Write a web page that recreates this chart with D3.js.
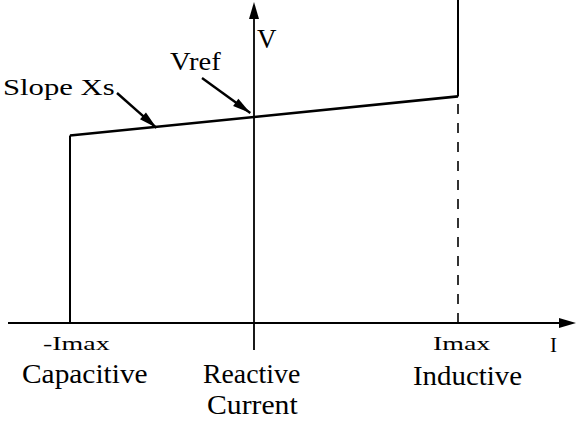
<!DOCTYPE html>
<html><head><meta charset="utf-8">
<script src="https://cdn.jsdelivr.net/npm/d3@7"></script>
<style>
html,body{margin:0;padding:0;background:#fff;}svg{display:block;}
.lbl{font-family:"Liberation Serif","Tinos","Times New Roman",serif;fill:#000;}
</style>
</head><body><div id="chart"></div>
<script>
// Data (per-unit): current I (-Imax .. Imax) and voltage V
const currentPoints = [-1, 0, 1];          // -Imax, 0, Imax
const voltagePoints = [0.91, 1.0, 1.10];   // V on the slope at those currents
const vTop = 1.57;                         // ceiling of the vertical limit lines
const axisLabels = ["-Imax", "Imax"];
const axisNames = ["V", "I"];
const regionLabels = ["Capacitive", "Reactive", "Current", "Inductive"];
const annotations = ["Slope Xs", "Vref"];

const W = 576, H = 421;
const svg = d3.select("#chart").append("svg").attr("width", W).attr("height", H);
const textLayer = svg.append("g");
const markLayer = svg.append("g");

// text placed by left x, baseline y, font size and a horizontal stretch factor
function txt(s, xx, yy, size, sx){
  textLayer.append("text").attr("class","lbl")
    .attr("transform", `translate(${xx},${yy}) scale(${sx || 1},1)`)
    .style("font-size", size + "px").text(s);
}
txt(annotations[0], 3, 95, 24, 1.28);
txt(annotations[1], 170, 70, 26, 1.1);
txt(axisNames[0], 257, 48, 27);
txt(axisNames[1], 550, 352, 21);
txt(axisLabels[0], 43, 350, 18, 1.55);
txt(axisLabels[1], 433, 350, 18, 1.55);
txt(regionLabels[0], 22, 383, 28, 1.05);
txt(regionLabels[1], 203, 383, 27, 1.03);
txt(regionLabels[2], 207, 414, 27, 1.1);
txt(regionLabels[3], 413, 385, 27, 1.07);

const x = d3.scaleLinear().domain([-1, 0, 1]).range([70, 254, 458]);
const y = d3.scaleLinear().domain([0, 1]).range([323, 117]);
const xMin = x.invert(8), xMax = x.invert(576);
const yMin = y.invert(350), yMax = y.invert(2);

const line = d3.line().x(d => x(d[0])).y(d => y(d[1]));
function seg(p, w, dash){
  const el = markLayer.append("path").attr("d", line(p)).attr("fill","none").attr("stroke","#000").attr("stroke-width",w);
  if (dash) el.attr("stroke-dasharray", dash);
}
function head(x1,y1,x2,y2,len,half){
  const a = Math.atan2(y2-y1, x2-x1), c = Math.cos(a), s = Math.sin(a);
  const bx = x2 - c*len, by = y2 - s*len;
  markLayer.append("path").attr("d",
    `M${x2},${y2}L${bx - s*half},${by + c*half}L${bx + s*half},${by - c*half}Z`).attr("fill","#000");
}

// axes
seg([[xMin,0],[xMax - 0.05,0]], 1.8);
head(x(xMin), y(0), x(xMax), y(0), 17, 5);
seg([[0,yMin],[0,yMax - 0.05]], 1.8);
head(x(0), y(yMin), x(0), y(yMax), 17, 5);

// characteristic
seg([[currentPoints[0], 0], [currentPoints[0], voltagePoints[0]]], 2);
seg(currentPoints.map((c,i) => [c, voltagePoints[i]]), 2.6);
seg([[currentPoints[2], voltagePoints[2]], [currentPoints[2], vTop]], 2);
seg([[currentPoints[2], 0], [currentPoints[2], voltagePoints[2]]], 1.6, "10,9");

// annotation arrows
function arrow(x1,y1,x2,y2){
  markLayer.append("line").attr("x1",x1).attr("y1",y1).attr("x2",x2).attr("y2",y2)
    .attr("stroke","#000").attr("stroke-width",2.4);
  head(x1,y1,x2,y2,18,4.5);
}
arrow(117, 93, x(-0.53), y(0.91 + (1.0-0.91)*0.47) + 1);
arrow(202, 78, x(-0.02), y(1.0) - 4);
</script></body></html>
